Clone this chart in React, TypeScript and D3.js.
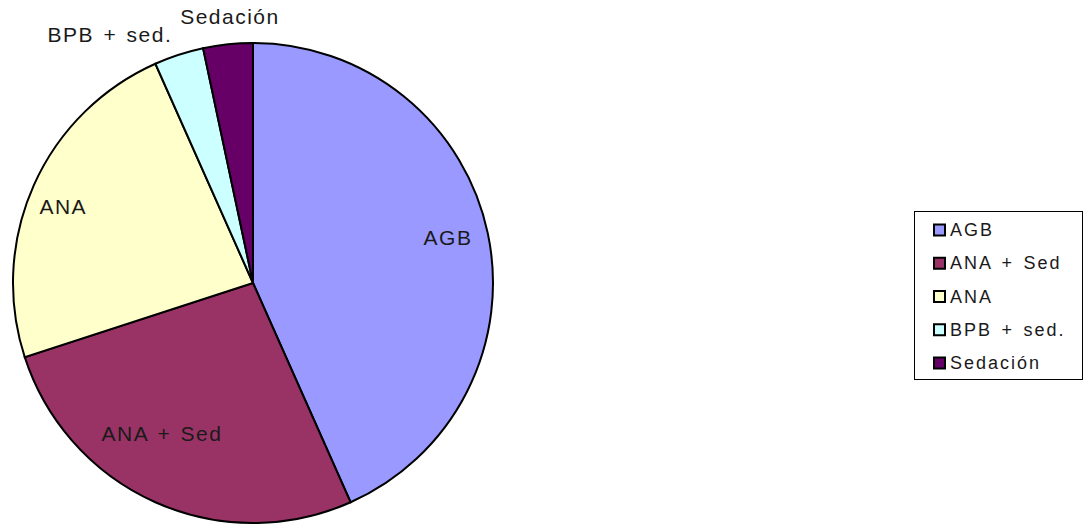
import React from "react";
import * as d3 from "d3";

const categories = ["AGB", "ANA + Sed", "ANA", "BPB + sed.", "Sedación"];
const values = [13, 8, 7, 1, 1];
const colors = ["#9999FF", "#993366", "#FFFFCC", "#CCFFFF", "#660066"];

const W = 1089;
const H = 524;
const cx = 253;
const cy = 283;
const r = 240;

// nudges applied to each label after placing it on the slice centroid
const labelOffsets: [number, number][] = [
  [2.5, -5],
  [-11, -29],
  [-10, 4],
  [-60, 7.5],
  [5, 1],
];

export default function App() {
  const pie = d3.pie<number>().sort(null).value((d) => d);
  const arcs = pie(values);
  const arc = d3.arc<d3.PieArcDatum<number>>().innerRadius(0).outerRadius(r);
  const labelArc = d3
    .arc<d3.PieArcDatum<number>>()
    .innerRadius(r * 0.82)
    .outerRadius(r * 0.82);
  const outerLabelArc = d3
    .arc<d3.PieArcDatum<number>>()
    .innerRadius(r * 1.12)
    .outerRadius(r * 1.12);

  const legendY = d3.scalePoint<string>().domain(categories).range([230, 363]);
  const font = "'Liberation Sans', Arial, sans-serif";
  const pieTextStyle = { letterSpacing: "1.5px", wordSpacing: "2px" };
  const legendTextStyle = { letterSpacing: "2px", wordSpacing: "2.5px" };

  return (
    <svg
      width={W}
      height={H}
      style={{ position: "absolute", left: 0, top: 0, background: "#fff" }}
      fontFamily={font}
    >
      <g transform={`translate(${cx},${cy})`}>
        {arcs.map((a, i) => (
          <path
            key={categories[i]}
            d={arc(a) || ""}
            fill={colors[i]}
            stroke="#000"
            strokeWidth={2}
          />
        ))}
        {arcs.map((a, i) => {
          const small = a.endAngle - a.startAngle < 0.4;
          const [x, y] = small ? outerLabelArc.centroid(a) : labelArc.centroid(a);
          return (
            <text
              key={"l" + i}
              x={x + labelOffsets[i][0]}
              y={y + labelOffsets[i][1]}
              textAnchor="middle"
              dominantBaseline="central"
              fontSize={21}
              fill="#1a1a1a"
              style={pieTextStyle}
            >
              {categories[i]}
            </text>
          );
        })}
      </g>
      <rect x={914.5} y={211.5} width={168} height={168} fill="#fff" stroke="#000" strokeWidth={1} />
      {categories.map((c, i) => {
        const y = legendY(c) as number;
        return (
          <g key={"lg" + i}>
            <rect x={934} y={y - 5.5} width={11} height={11} fill={colors[i]} stroke="#000" strokeWidth={2} />
            <text
              x={950}
              y={y}
              dominantBaseline="central"
              fontSize={18}
              fill="#1a1a1a"
              style={legendTextStyle}
            >
              {c}
            </text>
          </g>
        );
      })}
    </svg>
  );
}
